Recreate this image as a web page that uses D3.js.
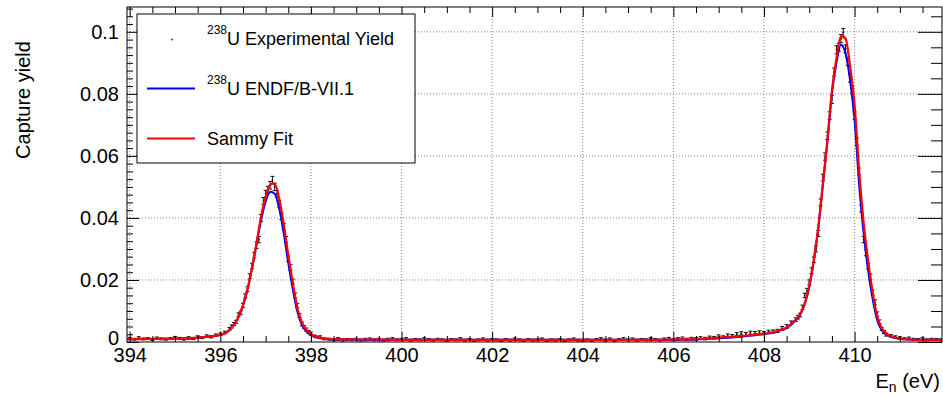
<!DOCTYPE html>
<html><head><meta charset="utf-8">
<script src="https://cdn.jsdelivr.net/npm/d3@7"></script>
<style>
body{margin:0;background:#fff}
svg{display:block}
text{font-family:"Liberation Sans",Arial,Helvetica,sans-serif;fill:#000}
</style>
</head><body>
<svg id="c" width="943" height="397"></svg>
<script>
// ---------------- DATA ----------------
const expEnergy = [
  394.0,394.1,394.2,394.3,394.4,394.5,394.6,394.7,394.8,394.9,
  395.0,395.1,395.2,395.3,395.4,395.5,395.6,395.7,395.8,395.9,
  396.0,396.1,396.2,
  396.25,396.30,396.35,396.40,396.45,396.50,396.55,396.60,396.65,396.70,
  396.75,396.80,396.85,396.90,396.95,397.00,397.05,397.10,397.15,397.20,
  397.25,397.30,397.35,397.40,397.45,397.50,397.55,397.60,397.65,397.70,
  397.75,397.80,397.85,397.90,397.95,
  398.0,398.1,398.2,398.3,398.4,398.5,398.6,398.7,398.8,398.9,
  399.0,399.1,399.2,399.3,399.4,399.5,399.6,399.7,399.8,399.9,
  400.0,400.1,400.2,400.3,400.4,400.5,400.6,400.7,400.8,400.9,
  401.0,401.1,401.2,401.3,401.4,401.5,401.6,401.7,401.8,401.9,
  402.0,402.1,402.2,402.3,402.4,402.5,402.6,402.7,402.8,402.9,
  403.0,403.1,403.2,403.3,403.4,403.5,403.6,403.7,403.8,403.9,
  404.0,404.1,404.2,404.3,404.4,404.5,404.6,404.7,404.8,404.9,
  405.0,405.1,405.2,405.3,405.4,405.5,405.6,405.7,405.8,405.9,
  406.0,406.1,406.2,406.3,406.4,406.5,406.6,406.7,406.8,406.9,
  407.0,407.1,407.2,407.3,407.4,407.5,407.6,407.7,407.8,407.9,
  408.0,408.1,408.2,408.3,408.4,408.5,408.6,408.7,
  408.75,408.80,408.85,408.90,408.95,409.00,409.05,409.10,409.15,409.20,
  409.25,409.30,409.35,409.40,409.45,409.50,409.55,409.60,409.65,409.70,
  409.75,409.80,409.85,409.90,409.95,410.00,410.05,410.10,410.15,410.20,
  410.25,410.30,410.35,410.40,410.45,410.50,410.55,410.60,410.65,
  410.7,410.8,410.9,411.0,411.1,411.2,411.3,411.4,411.5,411.6,
  411.7,411.8,411.9
];
const expYield = [
  0.0012,0.0009,0.0013,0.0010,0.0011,0.0008,0.0012,0.0010,0.0009,0.0011,
  0.0014,0.0012,0.0009,0.0013,0.0011,0.0016,0.0014,0.0019,0.0017,0.0022,
  0.0025,0.0031,0.0042,
  0.0050,0.0058,0.0065,0.0088,0.0094,0.0118,0.0148,0.0170,0.0212,0.0245,
  0.0280,0.0312,0.0330,0.0400,0.0455,0.0478,0.0490,0.0505,0.0522,0.0500,
  0.0478,0.0445,0.0405,0.0372,0.0330,0.0268,0.0240,0.0195,0.0150,0.0118,
  0.0085,0.0058,0.0048,0.0040,0.0032,
  0.0027,0.0018,0.0016,0.0010,0.0009,0.0007,0.0010,0.0006,0.0008,0.0007,
  0.0009,0.0006,0.0008,0.0010,0.0007,0.0009,0.0006,0.0008,0.0011,0.0007,
  0.0009,0.0010,0.0006,0.0008,0.0007,0.0010,0.0008,0.0006,0.0009,0.0007,
  0.0005,0.0008,0.0007,0.0010,0.0006,0.0008,0.0005,0.0007,0.0009,0.0006,
  0.0008,0.0007,0.0005,0.0008,0.0006,0.0009,0.0007,0.0005,0.0008,0.0006,
  0.0007,0.0009,0.0005,0.0007,0.0006,0.0008,0.0005,0.0007,0.0009,0.0006,
  0.0004,0.0007,0.0005,0.0008,0.0010,0.0006,0.0009,0.0005,0.0008,0.0010,
  0.0007,0.0009,0.0006,0.0008,0.0007,0.0010,0.0008,0.0006,0.0009,0.0011,
  0.0008,0.0010,0.0012,0.0009,0.0011,0.0010,0.0013,0.0011,0.0015,0.0014,
  0.0018,0.0016,0.0021,0.0019,0.0025,0.0028,0.0026,0.0030,0.0029,0.0031,
  0.0029,0.0033,0.0034,0.0036,0.0044,0.0050,0.0062,0.0072,
  0.0080,0.0087,0.0112,0.0150,0.0165,0.0192,0.0230,0.0265,0.0300,0.0350,
  0.0450,0.0530,0.0598,0.0665,0.0730,0.0782,0.0870,0.0942,0.0950,0.0978,
  0.0998,0.0945,0.0905,0.0850,0.0813,0.0730,0.0646,0.0550,0.0430,0.0330,
  0.0288,0.0245,0.0210,0.0160,0.0128,0.0090,0.0065,0.0042,0.0032,
  0.0024,0.0020,0.0016,0.0013,0.0011,0.0012,0.0009,0.0008,0.0010,0.0007,
  0.0009,0.0008,0.0007
];
const expError = [
  0.0003,0.0003,0.0004,0.0003,0.0003,0.0003,0.0004,0.0003,0.0003,0.0003,
  0.0004,0.0003,0.0003,0.0004,0.0003,0.0004,0.0003,0.0004,0.0004,0.0004,
  0.0004,0.0004,0.0005,
  0.0005,0.0005,0.0005,0.0006,0.0006,0.0007,0.0007,0.0008,0.0008,0.0009,
  0.0009,0.0010,0.0010,0.0011,0.0011,0.0011,0.0012,0.0012,0.0012,0.0012,
  0.0011,0.0011,0.0010,0.0010,0.0010,0.0009,0.0009,0.0008,0.0008,0.0007,
  0.0006,0.0006,0.0005,0.0005,0.0005,
  0.0005,0.0004,0.0004,0.0003,0.0003,0.0003,0.0004,0.0003,0.0003,0.0003,
  0.0003,0.0003,0.0004,0.0003,0.0003,0.0003,0.0003,0.0004,0.0003,0.0003,
  0.0003,0.0004,0.0003,0.0003,0.0003,0.0004,0.0003,0.0003,0.0003,0.0003,
  0.0003,0.0003,0.0003,0.0004,0.0003,0.0003,0.0003,0.0003,0.0004,0.0003,
  0.0003,0.0003,0.0003,0.0003,0.0003,0.0004,0.0003,0.0003,0.0003,0.0003,
  0.0003,0.0004,0.0003,0.0003,0.0003,0.0003,0.0003,0.0003,0.0004,0.0003,
  0.0003,0.0003,0.0003,0.0003,0.0004,0.0003,0.0004,0.0003,0.0003,0.0004,
  0.0003,0.0004,0.0003,0.0003,0.0003,0.0004,0.0003,0.0003,0.0004,0.0004,
  0.0003,0.0004,0.0004,0.0003,0.0004,0.0004,0.0004,0.0004,0.0004,0.0004,
  0.0005,0.0004,0.0005,0.0005,0.0005,0.0005,0.0005,0.0005,0.0005,0.0005,
  0.0005,0.0005,0.0005,0.0005,0.0006,0.0006,0.0006,0.0006,
  0.0006,0.0006,0.0007,0.0007,0.0008,0.0008,0.0009,0.0009,0.0010,0.0010,
  0.0011,0.0011,0.0012,0.0012,0.0012,0.0013,0.0013,0.0013,0.0013,0.0013,
  0.0013,0.0013,0.0013,0.0012,0.0012,0.0012,0.0012,0.0011,0.0011,0.0010,
  0.0010,0.0009,0.0009,0.0008,0.0008,0.0007,0.0006,0.0005,0.0005,
  0.0005,0.0004,0.0004,0.0004,0.0003,0.0004,0.0003,0.0003,0.0004,0.0003,
  0.0003,0.0003,0.0003
];

const curveEnergy = [
  393.95,394.5,395.0,395.5,395.8,
  396.0,396.1,396.2,396.3,396.4,396.5,396.6,396.7,396.8,396.9,
  397.0,397.1,397.2,397.3,397.4,397.5,397.6,397.7,397.8,397.9,
  398.0,398.1,398.2,398.3,398.4,398.5,399.0,399.5,400.0,400.5,
  401.0,401.5,402.0,402.5,403.0,403.5,404.0,404.5,405.0,405.5,
  406.0,406.5,407.0,407.5,407.8,408.0,408.1,408.2,408.3,408.4,
  408.5,408.6,408.7,408.8,408.9,409.0,409.1,409.2,409.3,409.4,
  409.5,409.6,409.7,409.8,409.9,410.0,410.1,410.2,410.3,410.4,
  410.5,410.6,410.7,410.8,410.9,411.0,411.1,411.2,411.5,411.93
];
const sammyYield = [
  0.0009,0.0010,0.0011,0.0014,0.0018,
  0.0023,0.0028,0.0038,0.0055,0.0080,0.0118,0.0170,0.0238,0.0320,0.0405,
  0.0468,0.0507,0.0511,0.0462,0.0380,0.0280,0.0190,0.0110,0.0063,0.0040,
  0.0026,0.0018,0.0014,0.0011,0.0010,0.0009,0.0008,0.0008,0.0007,0.0007,
  0.0007,0.0007,0.0007,0.0007,0.0007,0.0007,0.0007,0.0007,0.0007,0.0007,
  0.0008,0.0009,0.0014,0.0019,0.0024,0.0027,0.0029,0.0032,0.0036,0.0041,
  0.0047,0.0058,0.0072,0.0090,0.0125,0.0180,0.0265,0.0370,0.0510,0.0650,
  0.0810,0.0915,0.0985,0.0978,0.0890,0.0765,0.0555,0.0385,0.0262,0.0160,
  0.0082,0.0045,0.0028,0.0019,0.0014,0.0011,0.0009,0.0008,0.0007,0.0007
];
const endfYield = [
  0.0009,0.0010,0.0011,0.0014,0.0018,
  0.0023,0.0028,0.0038,0.0055,0.0080,0.0118,0.0170,0.0238,0.0316,0.0393,
  0.0452,0.0484,0.0478,0.0430,0.0350,0.0255,0.0170,0.0098,0.0055,0.0034,
  0.0022,0.0016,0.0012,0.0010,0.0009,0.0008,0.0008,0.0007,0.0007,0.0007,
  0.0007,0.0007,0.0007,0.0007,0.0007,0.0007,0.0007,0.0007,0.0007,0.0007,
  0.0007,0.0008,0.0012,0.0017,0.0022,0.0025,0.0027,0.0030,0.0034,0.0039,
  0.0045,0.0056,0.0070,0.0088,0.0122,0.0177,0.0262,0.0368,0.0507,0.0645,
  0.0800,0.0900,0.0958,0.0930,0.0845,0.0715,0.0510,0.0350,0.0230,0.0138,
  0.0070,0.0038,0.0024,0.0017,0.0013,0.0010,0.0009,0.0008,0.0007,0.0007
];

const xMajorTicks = [394,396,398,400,402,404,406,408,410];
const xMinorTicks = [394.5,395,395.5,396.5,397,397.5,398.5,399,399.5,400.5,401,401.5,402.5,403,403.5,404.5,405,405.5,406.5,407,407.5,408.5,409,409.5,410.5,411,411.5];
const yMajorTicks = [0,0.02,0.04,0.06,0.08,0.1];
const yMinorTicksRight = [0.005,0.01,0.015,0.025,0.03,0.035,0.045,0.05,0.055,0.065,0.07,0.075,0.085,0.09,0.095,0.105];
const yMinorTicksLeft = [0.0025,0.005,0.0075,0.01,0.0125,0.015,0.0175,0.0225,0.025,0.0275,0.03,0.0325,0.035,0.0375,0.0425,0.045,0.0475,0.05,0.0525,0.055,0.0575,0.0625,0.065,0.0675,0.07,0.0725,0.075,0.0775,0.0825,0.085,0.0875,0.09,0.0925,0.095,0.0975,0.1025,0.105,0.1075];

const legendLabels = ["Experimental Yield","ENDF/B-VII.1","Sammy Fit"];

// ---------------- CHART ----------------
const svg = d3.select("#c");
const X0=127, X1=942, YT=7, YB=342;
const x = d3.scaleLinear().domain([393.94, 411.93]).range([X0, X1]);
const y = d3.scaleLinear().domain([0, 0.108]).range([YB, YT]);

svg.append("rect").attr("width",943).attr("height",397).attr("fill","#fff");

svg.append("defs").append("clipPath").attr("id","pc")
  .append("rect").attr("x",X0).attr("y",YT).attr("width",X1-X0).attr("height",YB-YT);

// grid
const grid = svg.append("g").attr("stroke","#666").attr("stroke-width",0.8).attr("stroke-dasharray","1,2");
grid.selectAll(".gx").data(xMajorTicks).join("line")
  .attr("x1",d=>x(d)).attr("x2",d=>x(d)).attr("y1",YT).attr("y2",YB);
grid.selectAll(".gy").data(yMajorTicks.filter(d=>d>0)).join("line")
  .attr("x1",X0).attr("x2",X1).attr("y1",d=>y(d)).attr("y2",d=>y(d));

const plot = svg.append("g").attr("clip-path","url(#pc)");

// experimental points with error bars
const pts = expEnergy.map((e,i)=>({e, v:expYield[i], s:expError[i]}));
const eg = plot.append("g").attr("stroke","#111").attr("stroke-width",1);
eg.selectAll(".eb").data(pts).join("line")
  .attr("x1",d=>x(d.e)).attr("x2",d=>x(d.e))
  .attr("y1",d=>y(d.v-d.s)).attr("y2",d=>y(d.v+d.s));
eg.selectAll(".ct").data(pts).join("line")
  .attr("x1",d=>x(d.e)-2).attr("x2",d=>x(d.e)+2)
  .attr("y1",d=>y(d.v+d.s)).attr("y2",d=>y(d.v+d.s));
eg.selectAll(".cb").data(pts).join("line")
  .attr("x1",d=>x(d.e)-2).attr("x2",d=>x(d.e)+2)
  .attr("y1",d=>y(d.v-d.s)).attr("y2",d=>y(d.v-d.s));
plot.append("g").selectAll("circle").data(pts).join("circle")
  .attr("cx",d=>x(d.e)).attr("cy",d=>y(d.v)).attr("r",0.9).attr("fill","#111");

// curves
const line = (arr)=>d3.line().x((d,i)=>x(curveEnergy[i])).y(d=>y(d)).curve(d3.curveMonotoneX)(arr);
plot.append("path").attr("d",line(endfYield)).attr("fill","none").attr("stroke","#0000ff").attr("stroke-width",2);
plot.append("path").attr("d",line(sammyYield)).attr("fill","none").attr("stroke","#ff0000").attr("stroke-width",2.2);

// axes
function noDomain(g){g.select(".domain").remove();}
const fs = "20px";
svg.append("g").attr("transform",`translate(0,${YB})`)
  .call(d3.axisBottom(x).tickValues(xMajorTicks).tickSize(-10).tickPadding(6).tickFormat(d3.format("d")))
  .call(noDomain).call(g=>g.selectAll("text").attr("font-size",fs).attr("font-family",null))
  .call(g=>g.selectAll("line").attr("stroke","#000"));
svg.append("g").attr("transform",`translate(0,${YB})`)
  .call(d3.axisBottom(x).tickValues(xMinorTicks).tickSize(-6).tickFormat(""))
  .call(noDomain).call(g=>g.selectAll("line").attr("stroke","#000"));
svg.append("g").attr("transform",`translate(0,${YT})`)
  .call(d3.axisTop(x).tickValues(xMajorTicks).tickSize(-10).tickFormat(""))
  .call(noDomain).call(g=>g.selectAll("line").attr("stroke","#000"));
svg.append("g").attr("transform",`translate(0,${YT})`)
  .call(d3.axisTop(x).tickValues(xMinorTicks).tickSize(-6).tickFormat(""))
  .call(noDomain).call(g=>g.selectAll("line").attr("stroke","#000"));

svg.append("g").attr("transform",`translate(${X0},0)`)
  .call(d3.axisLeft(y).tickValues(yMajorTicks).tickSize(-12).tickPadding(8)
     .tickFormat(d=>d===0?"0":String(+d.toFixed(2))))
  .call(noDomain).call(g=>g.selectAll("text").attr("font-size",fs).attr("font-family",null))
  .call(g=>g.selectAll("text").filter(d=>d===0).attr("dy","0.1em"))
  .call(g=>g.selectAll("line").attr("stroke","#000"));
svg.append("g").attr("transform",`translate(${X0},0)`)
  .call(d3.axisLeft(y).tickValues(yMinorTicksLeft).tickSize(-6).tickFormat(""))
  .call(noDomain).call(g=>g.selectAll("line").attr("stroke","#000"));
svg.append("g").attr("transform",`translate(${X1},0)`)
  .call(d3.axisRight(y).tickValues(yMajorTicks).tickSize(-24).tickFormat(""))
  .call(noDomain).call(g=>g.selectAll("line").attr("stroke","#000"));
svg.append("g").attr("transform",`translate(${X1},0)`)
  .call(d3.axisRight(y).tickValues(yMinorTicksRight).tickSize(-11).tickFormat(""))
  .call(noDomain).call(g=>g.selectAll("line").attr("stroke","#000"));

// frame
svg.append("rect").attr("x",X0).attr("y",YT).attr("width",X1-X0).attr("height",YB-YT)
  .attr("fill","none").attr("stroke","#000").attr("stroke-width",1);

// axis titles
svg.append("text").attr("transform","translate(30,100) rotate(-90)")
  .attr("text-anchor","middle").attr("font-size","20px").text("Capture yield");
const xt = svg.append("text").attr("x",940).attr("y",388).attr("text-anchor","end").attr("font-size","20px");
xt.append("tspan").text("E");
xt.append("tspan").attr("font-size","14px").attr("dy",4).text("n");
xt.append("tspan").attr("dy",-4).text(" (eV)");

// legend
const lg = svg.append("g");
lg.append("rect").attr("x",137).attr("y",14).attr("width",278).attr("height",149)
  .attr("fill","#fff").attr("stroke","#000").attr("stroke-width",1);
lg.append("circle").attr("cx",172).attr("cy",39.5).attr("r",1).attr("fill","#444");
lg.append("line").attr("x1",147).attr("x2",195).attr("y1",88.5).attr("y2",88.5).attr("stroke","#0000ff").attr("stroke-width",2);
lg.append("line").attr("x1",147).attr("x2",195).attr("y1",138.5).attr("y2",138.5).attr("stroke","#ff0000").attr("stroke-width",2);
const ys = [44.5, 94.5, 144.5];
legendLabels.forEach((lab,i)=>{
  const t = lg.append("text").attr("x",207).attr("y",ys[i]).attr("font-size","18px");
  if(i<2){
    t.append("tspan").attr("font-size","12px").attr("dy",-11).text("238");
    t.append("tspan").attr("dy",11).text("U " + lab);
  } else {
    t.text(lab);
  }
});
</script>
</body></html>
